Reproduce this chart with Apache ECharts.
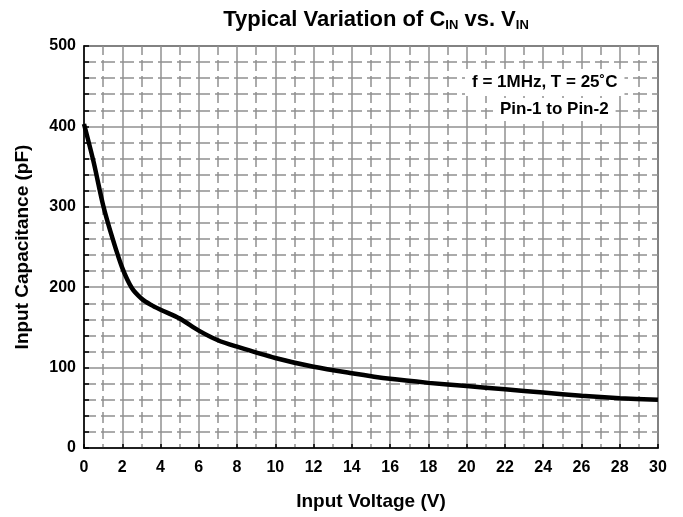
<!DOCTYPE html>
<html lang="en">
<head>
    <meta charset="UTF-8">
    <title>Typical Variation of CIN vs. VIN</title>
    <script src="https://cdn.jsdelivr.net/npm/echarts@6/dist/echarts.min.js"></script>
    <style>
        html, body { margin: 0; padding: 0; background: #fff; }
    </style>
</head>
<body>
<div id="main" style="width: 683px;height:517px;"></div>
<script type="text/javascript">

    // input voltage (V) and input capacitance (pF)
    var voltage = [0, 0.5, 1, 1.5, 2, 2.5, 3, 3.5, 4, 5, 6, 7, 8, 10, 12, 14, 16, 18, 20, 22, 24, 26, 28, 30];
    var capacitance = [403, 356, 302, 260, 224, 199, 186, 178, 172, 161, 146, 134, 126, 112, 101, 93, 86, 81, 77, 73, 69, 65, 62, 60];

    var xTicks = [0, 2, 4, 6, 8, 10, 12, 14, 16, 18, 20, 22, 24, 26, 28, 30];
    var yTicks = [0, 100, 200, 300, 400, 500];

    var noteLines = ['f = 1MHz, T = 25\u02DAC', 'Pin-1 to Pin-2'];

    var font = 'Liberation Sans, Arial, sans-serif';
    var gridColor = '#909090';

    var points = [];
    for (var i = 0; i < voltage.length; i++) {
        points.push([voltage[i], capacitance[i]]);
    }

    var myChart = echarts.init(document.getElementById('main'));

    option = {
        animation: false,
        title: {
            text: '{m|Typical Variation of C}{s|IN}{m| vs. V}{s|IN}',
            left: 371,
            top: 4,
            textAlign: 'center',
            textStyle: {
                rich: {
                    m: {fontFamily: font, fontWeight: 'bold', fontSize: 22, lineHeight: 22, color: '#000', verticalAlign: 'top'},
                    s: {fontFamily: font, fontWeight: 'bold', fontSize: 13, lineHeight: 33, color: '#000', verticalAlign: 'middle'}
                }
            }
        },
        grid: {
            left: 84,
            right: 25,
            top: 46,
            bottom: 69,
            show: true,
            borderColor: '#222',
            borderWidth: 1.5
        },
        xAxis: {
            type: 'value',
            min: xTicks[0],
            max: xTicks[xTicks.length - 1],
            interval: 2,
            name: 'Input Voltage (V)',
            nameLocation: 'middle',
            nameGap: 44,
            nameTextStyle: {fontFamily: font, fontWeight: 'bold', fontSize: 19, color: '#000'},
            axisLine: {lineStyle: {color: '#000', width: 1.5}},
            axisTick: {inside: true, length: 4, lineStyle: {color: '#000', width: 1.5}},
            axisLabel: {fontFamily: font, fontWeight: 'bold', fontSize: 16, color: '#000', margin: 12},
            splitLine: {show: true, lineStyle: {color: gridColor, width: 1.5}},
            minorTick: {show: false, splitNumber: 2},
            minorSplitLine: {show: true, lineStyle: {color: gridColor, width: 1.5, type: [11, 5], dashOffset: 2}}
        },
        yAxis: {
            type: 'value',
            min: yTicks[0],
            max: yTicks[yTicks.length - 1],
            interval: 100,
            name: 'Input Capacitance (pF)',
            nameLocation: 'middle',
            nameGap: 52,
            nameTextStyle: {fontFamily: font, fontWeight: 'bold', fontSize: 19, color: '#000'},
            axisLine: {show: true, lineStyle: {color: '#000', width: 1.5}},
            axisTick: {show: true, inside: true, length: 5, lineStyle: {color: '#000', width: 1.5}},
            minorTick: {show: true, splitNumber: 5, length: 5, lineStyle: {color: '#000', width: 1.5}},
            axisLabel: {fontFamily: font, fontWeight: 'bold', fontSize: 16, color: '#000', margin: 8},
            splitLine: {show: true, lineStyle: {color: gridColor, width: 1.5}},
            minorSplitLine: {show: true, lineStyle: {color: gridColor, width: 1.5, type: [14, 5], dashOffset: 2}}
        },
        graphic: [
            {
                type: 'text',
                left: 465,
                top: 69,
                z: 10,
                style: {
                    text: noteLines[0],
                    font: 'bold 17px ' + font,
                    fill: '#000',
                    backgroundColor: '#fff',
                    padding: [5, 7, 5, 7]
                }
            },
            {
                type: 'text',
                left: 493,
                top: 98,
                z: 10,
                style: {
                    text: noteLines[1],
                    font: 'bold 17px ' + font,
                    fill: '#000',
                    backgroundColor: '#fff',
                    padding: [3, 7, 3, 7]
                }
            }
        ],
        series: [
            {
                name: 'CIN',
                type: 'line',
                data: points,
                smooth: 0.3,
                showSymbol: false,
                lineStyle: {color: '#000', width: 4.5},
                z: 5
            }
        ]
    };
    myChart.setOption(option);

</script>
</body>
</html>
